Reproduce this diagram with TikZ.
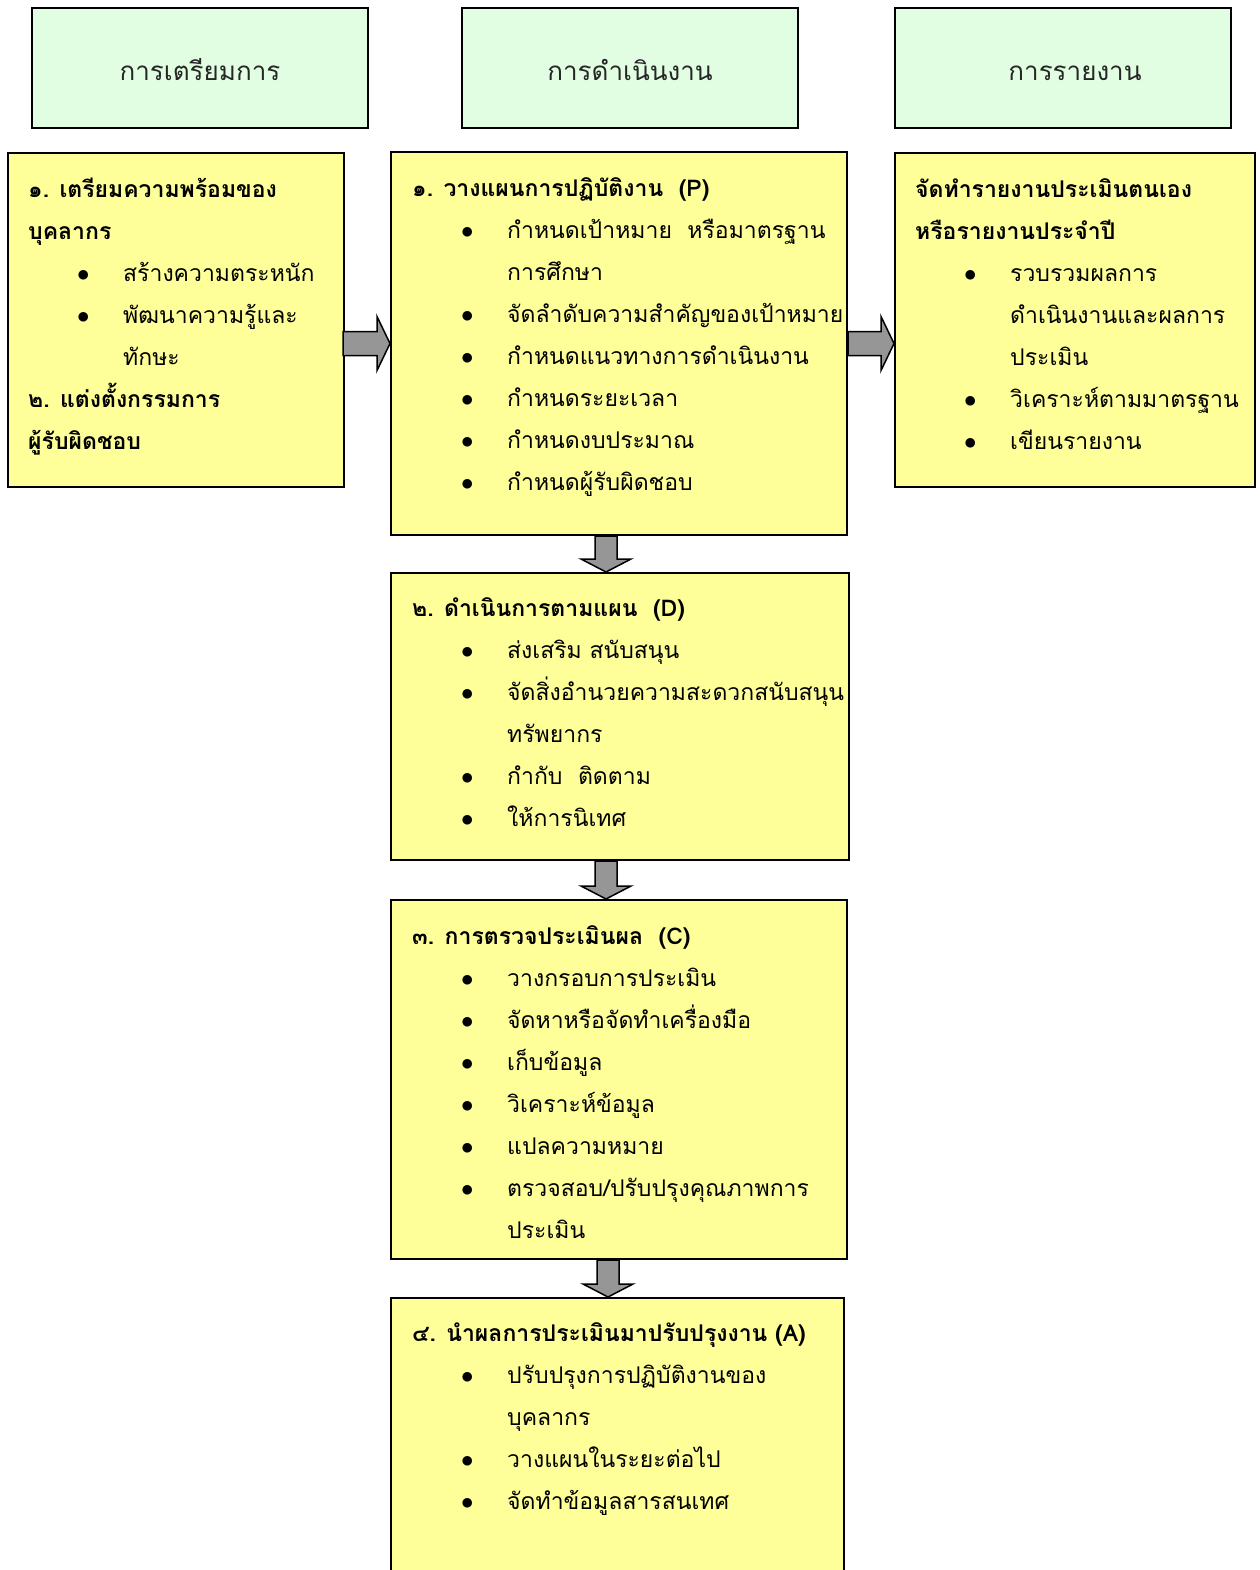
\documentclass[tikz,border=0pt]{standalone}
\usepackage{fontspec}
\setmainfont[Script=Thai]{Loma}
\usetikzlibrary{calc}

\definecolor{jaune}{HTML}{FFFF99}
\definecolor{vertpale}{HTML}{E2FEE2}
\definecolor{grisfleche}{HTML}{969696}

\newcommand\puce{\hspace*{49pt}\makebox[46pt][l]{$\bullet$}}
\newcommand\suite{\hspace*{95pt}}

\begin{document}
\begin{tikzpicture}[x=1pt, y=-1pt,
    every node/.style={inner sep=0pt, font=\fontsize{23}{42}\selectfont},
    entete/.style={draw, line width=2pt, fill=vertpale, text=black!85, font=\fontsize{26}{30}\selectfont,
        text height=26pt, text depth=0pt, minimum width=336pt, minimum height=120pt},
    boite/.style={draw, line width=2pt, fill=jaune},
    texte/.style={align=left, anchor=base west},
    fleche/.style={draw, line width=1.5pt, fill=grisfleche, line join=miter}]
    \clip (0,0) rectangle (1259,1570);
    % en-têtes
    \node[entete] (hprep) at (200,68) {การเตรียมการ};
    \node[entete] (hplan) at (630,68) {การดำเนินงาน};
    \node[entete] (hrap) at (1063,68) {\hspace*{24pt}การรายงาน};
    % boîtes
    \node[boite, minimum width=336pt, minimum height=334pt] (prep) at (176,320) {};
    \node[boite, minimum width=456pt, minimum height=383pt] (plan) at (619,343.5) {};
    \node[boite, minimum width=360pt, minimum height=334pt] (rap) at (1075,320) {};
    \node[boite, minimum width=458pt, minimum height=287pt] (faire) at (620,716.5) {};
    \node[boite, minimum width=456pt, minimum height=359pt] (verif) at (619,1079.5) {};
    \node[boite, minimum width=453pt, minimum height=300pt] (agir) at (617.5,1448) {};
    % flèches
    \coordinate (f1) at (prep.east |- plan.west);
    \draw[fleche] ($(f1)+(-2,-12)$) -- ($(plan.west)+(-13,-12)$) -- ($(plan.west)+(-13,-27)$) -- (plan.west)
        -- ($(plan.west)+(-13,27)$) -- ($(plan.west)+(-13,12)$) -- ($(f1)+(-2,12)$) -- cycle;
    \coordinate (f2) at (rap.west |- plan.east);
    \draw[fleche] ($(plan.east)+(0,-12)$) -- ($(f2)+(-13,-12)$) -- ($(f2)+(-13,-27)$) -- (f2)
        -- ($(f2)+(-13,27)$) -- ($(f2)+(-13,12)$) -- ($(plan.east)+(0,12)$) -- cycle;
    \coordinate (f3) at ($(plan.south)+(-13,0)$);
    \coordinate (g3) at (f3 |- faire.north);
    \draw[fleche] ($(f3)+(-11,0)$) -- ($(g3)+(-11,-13)$) -- ($(g3)+(-25,-13)$) -- (g3)
        -- ($(g3)+(25,-13)$) -- ($(g3)+(11,-13)$) -- ($(f3)+(11,0)$) -- cycle;
    \coordinate (f4) at ($(faire.south)+(-14,0)$);
    \coordinate (g4) at (f4 |- verif.north);
    \draw[fleche] ($(f4)+(-11,0)$) -- ($(g4)+(-11,-13)$) -- ($(g4)+(-25,-13)$) -- (g4)
        -- ($(g4)+(25,-13)$) -- ($(g4)+(11,-13)$) -- ($(f4)+(11,0)$) -- cycle;
    \coordinate (f5) at ($(verif.south)+(-11,0)$);
    \coordinate (g5) at (f5 |- agir.north);
    \draw[fleche] ($(f5)+(-11,0)$) -- ($(g5)+(-11,-13)$) -- ($(g5)+(-25,-13)$) -- (g5)
        -- ($(g5)+(25,-13)$) -- ($(g5)+(11,-13)$) -- ($(f5)+(11,0)$) -- cycle;
    % textes (ancre sur la ligne de base de la dernière ligne)
    \node[texte] (tprep) at (28,449) {\textbf{๑. เตรียมความพร้อมของ}\\
        \textbf{บุคลากร}\\
        \puce สร้างความตระหนัก\\
        \puce พัฒนาความรู้และ\\
        \suite ทักษะ\\
        \textbf{๒. แต่งตั้งกรรมการ}\\
        \textbf{ผู้รับผิดชอบ}};
    \node[texte] (tplan) at (412,490) {\textbf{๑. วางแผนการปฏิบัติงาน\ \ (P)}\\
        \puce กำหนดเป้าหมาย\ \ หรือมาตรฐาน\\
        \suite การศึกษา\\
        \puce จัดลำดับความสำคัญของเป้าหมาย\\
        \puce กำหนดแนวทางการดำเนินงาน\\
        \puce กำหนดระยะเวลา\\
        \puce กำหนดงบประมาณ\\
        \puce กำหนดผู้รับผิดชอบ};
    \node[texte] (trap) at (915,449) {\textbf{จัดทำรายงานประเมินตนเอง}\\
        \textbf{หรือรายงานประจำปี}\\
        \puce รวบรวมผลการ\\
        \suite ดำเนินงานและผลการ\\
        \suite ประเมิน\\
        \puce วิเคราะห์ตามมาตรฐาน\\
        \puce เขียนรายงาน};
    \node[texte] (tfaire) at (412,826) {\textbf{๒. ดำเนินการตามแผน\ \ (D)}\\
        \puce ส่งเสริม สนับสนุน\\
        \puce จัดสิ่งอำนวยความสะดวกสนับสนุน\\
        \suite ทรัพยากร\\
        \puce กำกับ\ \ ติดตาม\\
        \puce ให้การนิเทศ};
    \node[texte] (tverif) at (412,1238) {\textbf{๓. การตรวจประเมินผล\ \ (C)}\\
        \puce วางกรอบการประเมิน\\
        \puce จัดหาหรือจัดทำเครื่องมือ\\
        \puce เก็บข้อมูล\\
        \puce วิเคราะห์ข้อมูล\\
        \puce แปลความหมาย\\
        \puce ตรวจสอบ/ปรับปรุงคุณภาพการ\\
        \suite ประเมิน};
    \node[texte] (tagir) at (412,1509) {\textbf{๔. นำผลการประเมินมาปรับปรุงงาน (A)}\\
        \puce ปรับปรุงการปฏิบัติงานของ\\
        \suite บุคลากร\\
        \puce วางแผนในระยะต่อไป\\
        \puce จัดทำข้อมูลสารสนเทศ};
\end{tikzpicture}
\end{document}
